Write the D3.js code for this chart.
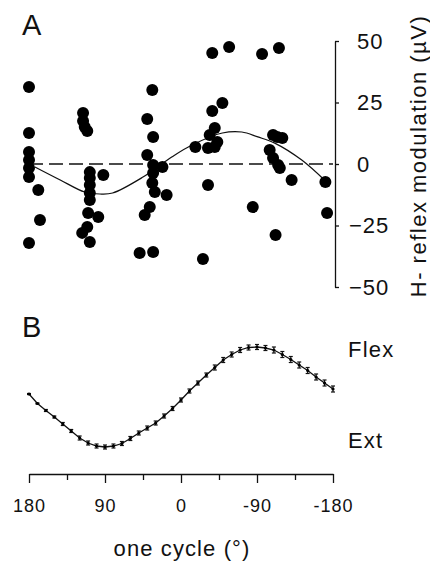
<!DOCTYPE html>
<html>
<head>
<meta charset="utf-8">
<script src="https://cdn.jsdelivr.net/npm/d3@7"></script>
<style>
  body { margin: 0; background: #fff; }
  text { font-family: "Liberation Sans", Arial, sans-serif; fill: #111; }
</style>
</head>
<body>
<div id="chart"></div>
<script>
//----------------------------------------------------------------
// data
//----------------------------------------------------------------
// panel A : scatter (phase in deg, H-reflex modulation in µV)
var dotPhase = [180, 180, 180, 180, 180, 180, 169, 167, 180,
                116, 116, 114, 111, 108, 108, 108, 108, 108, 110, 98, 111, 117, 108, 92,
                34, 40, 33, 40, 33, 22, 33, 34, 31, 17, 37, 43, 49, 33,
                -17, -34, -40, -43, -32, -40, -49, -37, -37, -57, -32, -26,
                -96, -116, -85, -109, -120, -105, -109, -115, -117, -131, -112, -114,
                -171, -173];
var dotValue = [31.3, 12.6, 4.9, 1.6, -1.6, -5.3, -10.6, -22.8, -32.1,
                20.7, 17.5, 15.0, 13.4, -3.3, -5.7, -8.5, -11.8, -14.6, -19.9, -21.5, -25.6, -28.0, -31.7, -4.5,
                30.1, 18.3, 11.0, 3.7, -0.4, -1.2, -3.7, -7.7, -11.4, -12.6, -17.5, -20.7, -36.2, -35.8,
                6.9, 11.8, 14.6, 8.9, 6.5, 6.9, 24.8, 21.5, 45.1, 47.6, -8.5, -38.6,
                44.7, 47.2, -17.5, 11.8, 10.6, 5.7, 2.4, -0.4, -1.6, -6.5, -28.9, 11.0,
                -7.3, -19.9];

// panel A : fitted curve
var fitPhase = [173, 143, 114, 96, 81, 45, 11, -13, -49, -72, -91, -111, -143, -171];
var fitValue = [-1.2, -6.5, -11.4, -12.2, -11.8, -5.3, 2.8, 7.7, 12.6, 13.0, 11.0, 8.5, 1.6, -6.9];

// panel B : joint position over one cycle (Ext = -1, Flex = 1)
var posPhase = [180, 170, 160, 150, 140, 130, 120, 110, 100, 90, 80, 70, 60, 50, 40, 30, 20, 10, 0,
                -10, -20, -30, -40, -50, -60, -70, -80, -90, -100, -110, -120, -130, -140, -150, -160, -170, -180];
var posValue = [0.06, -0.13, -0.27, -0.40, -0.54, -0.68, -0.82, -0.92, -0.98, -1.00, -0.98, -0.93, -0.83, -0.72, -0.62, -0.52, -0.38, -0.23, -0.06,
                0.12, 0.28, 0.44, 0.59, 0.74, 0.85, 0.94, 0.99, 1.00, 0.98, 0.94, 0.85, 0.75, 0.64, 0.53, 0.40, 0.28, 0.16];
var posErr   = [0.01, 0.01, 0.02, 0.02, 0.03, 0.03, 0.04, 0.04, 0.04, 0.04, 0.04, 0.04, 0.04, 0.04, 0.04, 0.04, 0.04, 0.04, 0.04,
                0.04, 0.04, 0.04, 0.05, 0.05, 0.05, 0.05, 0.05, 0.05, 0.05, 0.06, 0.06, 0.06, 0.06, 0.06, 0.06, 0.06, 0.06];

// axes
var phaseTicks = [180, 135, 90, 45, 0, -45, -90, -135, -180];
var modTicks = [50, 25, 0, -25, -50];
var posLabels = ["Flex", "Ext"];
var posLabelVals = [0.96, -0.86];

//----------------------------------------------------------------
// svg
//----------------------------------------------------------------
var largeur = 430, hauteur = 563;
var svg = d3.select("#chart").append("svg")
  .attr("width", largeur)
  .attr("height", hauteur);

var x = d3.scaleLinear().domain([180, -180]).range([29, 333]);
var yA = d3.scaleLinear().domain([-50, 50]).range([287, 41]);
var yB = d3.scaleLinear().domain([-1, 1]).range([447, 347]);

//----------------------------------------------------------------
// panel A
//----------------------------------------------------------------
svg.append("text").text("A")
  .attr("x", 22).attr("y", 35)
  .attr("font-size", "29px");

// zero line
svg.append("line")
  .attr("x1", x(180)).attr("x2", x(-180))
  .attr("y1", yA(0)).attr("y2", yA(0))
  .attr("stroke", "#111").attr("stroke-width", 1.5)
  .attr("stroke-dasharray", "14,6");

// fitted curve
var ligneFit = d3.line()
  .x(function(d, i){ return x(fitPhase[i]); })
  .y(function(d, i){ return yA(fitValue[i]); })
  .curve(d3.curveCatmullRom);
svg.append("path")
  .attr("d", ligneFit(fitPhase))
  .attr("fill", "none")
  .attr("stroke", "#111")
  .attr("stroke-width", 1.2);

// dots
svg.selectAll(".point")
  .data(dotPhase)
  .enter()
  .append("circle")
  .attr("class", "point")
  .attr("cx", function(d){ return x(d); })
  .attr("cy", function(d, i){ return yA(dotValue[i]); })
  .attr("r", 6)
  .attr("fill", "#000");

// right axis
var axeDroit = svg.append("g")
  .attr("transform", "translate(335,0)")
  .call(d3.axisRight(yA).tickValues(modTicks).tickSize(4).tickSizeOuter(0).tickPadding(18));
axeDroit.select(".domain").attr("stroke", "#111").attr("stroke-width", 1.3);
axeDroit.selectAll("line").attr("stroke", "#111").attr("stroke-width", 1.3);
axeDroit.selectAll("text")
  .attr("font-size", "22px")
  .attr("font-family", "Liberation Sans, Arial, sans-serif")
  .attr("letter-spacing", "1px")
  .attr("fill", "#111")
  .attr("dx", function(d){ return d < 0 ? -8 : 0; });

svg.append("text")
  .text("H- reflex modulation (µV)")
  .attr("transform", "translate(426,156) rotate(-90)")
  .attr("text-anchor", "middle")
  .attr("font-size", "22px")
  .attr("letter-spacing", "1.5px");

//----------------------------------------------------------------
// panel B
//----------------------------------------------------------------
svg.append("text").text("B")
  .attr("x", 22).attr("y", 337)
  .attr("font-size", "29px");

var lignePos = d3.line()
  .x(function(d, i){ return x(posPhase[i]); })
  .y(function(d, i){ return yB(posValue[i]); });
svg.append("path")
  .attr("d", lignePos(posPhase))
  .attr("fill", "none")
  .attr("stroke", "#111")
  .attr("stroke-width", 1.3);

var barres = svg.selectAll(".barre")
  .data(posPhase)
  .enter()
  .append("g")
  .attr("class", "barre");
barres.append("line")
  .attr("x1", function(d){ return x(d); })
  .attr("x2", function(d){ return x(d); })
  .attr("y1", function(d, i){ return yB(posValue[i] - posErr[i]); })
  .attr("y2", function(d, i){ return yB(posValue[i] + posErr[i]); })
  .attr("stroke", "#111").attr("stroke-width", 1.2);
barres.append("line")
  .attr("x1", function(d){ return x(d) - 2; })
  .attr("x2", function(d){ return x(d) + 2; })
  .attr("y1", function(d, i){ return yB(posValue[i] + posErr[i]); })
  .attr("y2", function(d, i){ return yB(posValue[i] + posErr[i]); })
  .attr("stroke", "#111").attr("stroke-width", 1.2);
barres.append("line")
  .attr("x1", function(d){ return x(d) - 2; })
  .attr("x2", function(d){ return x(d) + 2; })
  .attr("y1", function(d, i){ return yB(posValue[i] - posErr[i]); })
  .attr("y2", function(d, i){ return yB(posValue[i] - posErr[i]); })
  .attr("stroke", "#111").attr("stroke-width", 1.2);
barres.append("circle")
  .attr("cx", function(d){ return x(d); })
  .attr("cy", function(d, i){ return yB(posValue[i]); })
  .attr("r", 1.6)
  .attr("fill", "#000");

svg.selectAll(".posLabel")
  .data(posLabels)
  .enter()
  .append("text")
  .attr("class", "posLabel")
  .text(function(d){ return d; })
  .attr("x", 348)
  .attr("y", function(d, i){ return yB(posLabelVals[i]); })
  .attr("dominant-baseline", "central")
  .attr("font-size", "22px")
  .attr("letter-spacing", "1.2px");

// bottom axis
var axeBas = svg.append("g")
  .attr("transform", "translate(0,474)")
  .call(d3.axisBottom(x).tickValues(phaseTicks).tickSize(9).tickSizeOuter(0).tickPadding(16)
    .tickFormat(function(d){ return d % 90 === 0 ? d : ""; }));
axeBas.select(".domain").attr("stroke", "#111").attr("stroke-width", 1.3);
axeBas.selectAll(".tick line")
  .attr("stroke", "#111").attr("stroke-width", 1.3)
  .attr("y2", function(d){ return d % 90 === 0 ? 9 : 6; });
axeBas.selectAll("text")
  .attr("font-size", "18px")
  .attr("font-family", "Liberation Sans, Arial, sans-serif")
  .attr("letter-spacing", "1px")
  .attr("fill", "#111");

svg.append("text")
  .text("one cycle (°)")
  .attr("x", 182).attr("y", 556)
  .attr("text-anchor", "middle")
  .attr("font-size", "22px")
  .attr("letter-spacing", "1.1px");
</script>
</body>
</html>
